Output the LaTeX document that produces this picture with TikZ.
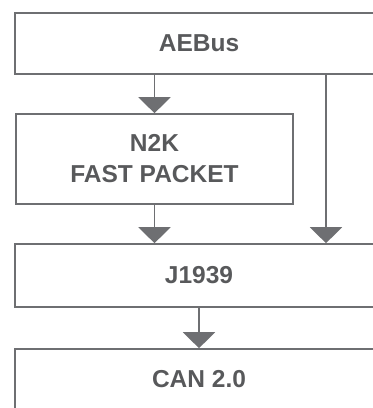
\documentclass[tikz,border=0pt]{standalone}
\usepackage{fontspec}
\setmainfont{Liberation Sans}
\usepackage{tikz}
\usetikzlibrary{arrows.meta}

\definecolor{linegray}{HTML}{6E6F72}
\definecolor{textgray}{HTML}{58595B}

\begin{document}
\begin{tikzpicture}[x=1pt, y=1pt]
\useasboundingbox (0,0) rectangle (373,-408);
\begin{scope}[every node/.style={rectangle, draw=linegray, line width=1.6pt, inner sep=0pt, align=center,
    text=textgray, font=\bfseries\fontsize{24.5}{31}\selectfont}]
    \node[minimum width=368pt, minimum height=61pt] (aebus) at (199,-43.5) {AEBus};
    \node[minimum width=277pt, minimum height=90pt] (n2k) at (154.5,-159) {N2K\\FAST PACKET};
    \node[minimum width=368pt, minimum height=63pt] (j1939) at (199,-275.5) {J1939};
    \node[minimum width=368pt, minimum height=61pt] (can) at (199,-379.5) {CAN 2.0};
\end{scope}
\coordinate (busout) at (326,-74);
\begin{scope}[>={Triangle[width=32pt, length=16pt]}, every path/.style={draw=linegray, fill=linegray, line width=1.6pt}]
    \path [->] (aebus.south -| n2k.north) -- (n2k.north);
    \path [->] (n2k.south) -- (n2k.south |- j1939.north);
    \path [->] (aebus.south -| busout) -- (busout |- j1939.north);
    \path [->] (j1939.south) -- (can.north);
\end{scope}
\end{tikzpicture}
\end{document}
